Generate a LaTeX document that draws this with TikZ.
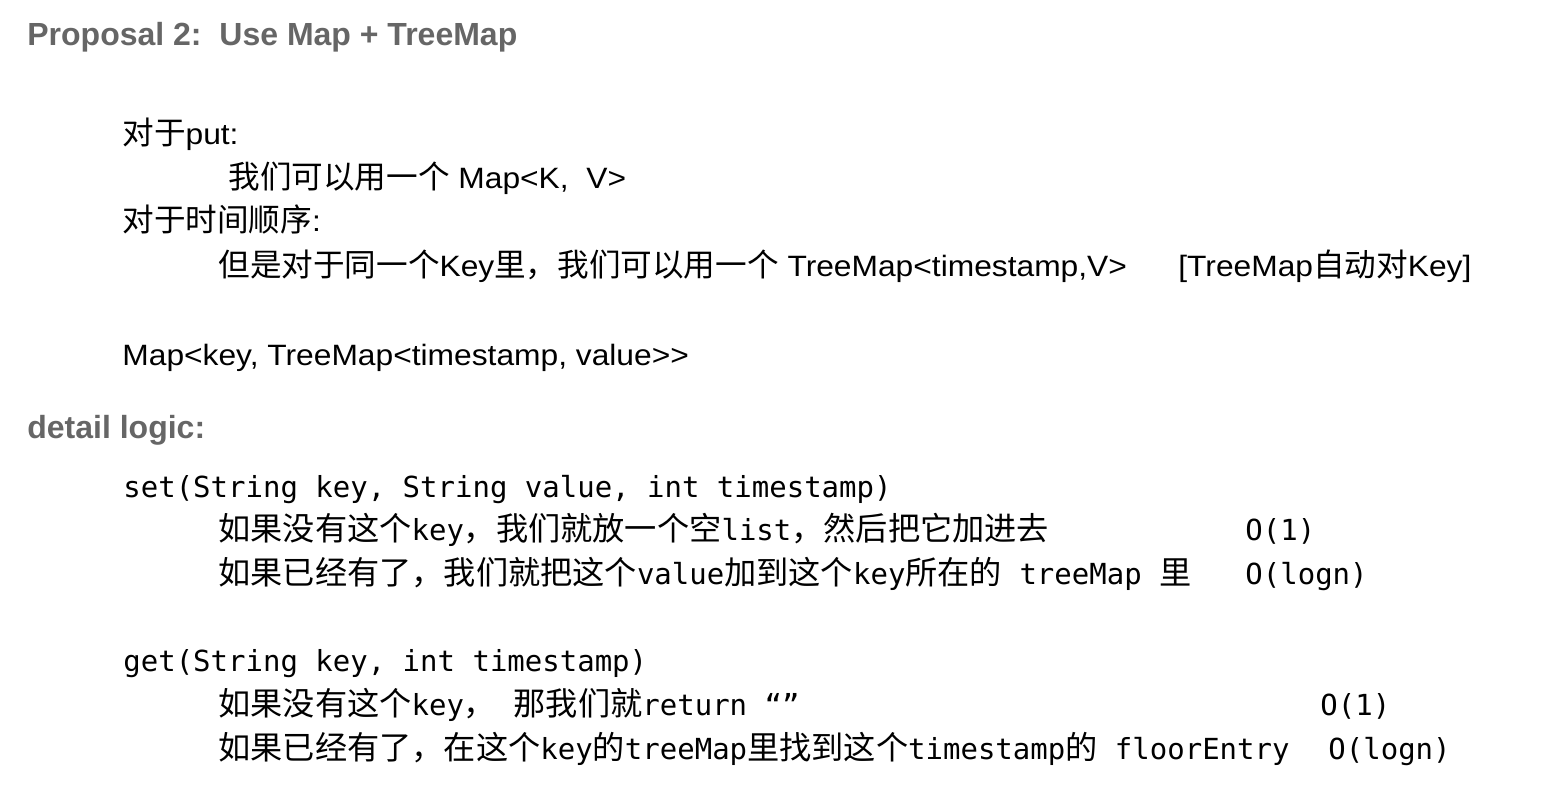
\documentclass[tikz,border=0pt]{standalone}
\usepackage{fontspec}
\setmainfont{Liberation Sans}
\newfontfamily\textsans{Liberation Sans}[FakeStretch=1.08]
\newfontfamily\codefont{DejaVu Sans Mono}
\newfontfamily\cjk{Noto Sans CJK SC}
\newcommand{\zh}[1]{{\cjk\fontsize{15.8}{18}\selectfont #1}}
\newcommand{\zhc}[1]{{\cjk\fontsize{16.1}{18}\selectfont #1}}
\definecolor{headgray}{HTML}{666666}

\begin{document}
\begin{tikzpicture}[x=0.5pt, y=-0.5pt,
    heading/.style={anchor=base west, inner sep=0pt, text=headgray, font=\fontsize{16}{19}\selectfont\bfseries},
    prose/.style={anchor=base west, inner sep=0pt, font=\textsans\fontsize{14.7}{18}\selectfont},
    code/.style={anchor=base west, inner sep=0pt, font=\codefont\fontsize{14.5}{18}\selectfont}]
    \useasboundingbox (0,0) rectangle (1562,802);
    \node [heading] (title) at (27,46) {Proposal 2:\ \ Use Map + TreeMap};
    \node [prose] (put) at (122,145) {\zh{对于}put:};
    \node [prose] (putmap) at (228,189) {\zh{我们可以用一个} Map<K,\ \ V>};
    \node [prose] (order) at (122,232) {\zh{对于时间顺序}:};
    \node [prose] (ordermap) at (218,277) {\zh{但是对于同一个}Key\zh{里，我们可以用一个} TreeMap<timestamp,V>};
    \node [prose] (note) at (1178,277) {[TreeMap\zh{自动对}Key]};
    \node [prose] (nested) at (122,365) {Map<key, TreeMap<timestamp, value>\kern0pt>};
    \node [heading] (detail) at (27,438) {detail logic:};
    \node [code] (set) at (123,497) {set(String key, String value, int timestamp)};
    \node [code] (setnew) at (218,540) {\zhc{如果没有这个}key\zhc{，我们就放一个空}list\zhc{，然后把它加进去}};
    \node [code] (setnewcost) at (1245,540) {O(1)};
    \node [code] (setold) at (218,584) {\zhc{如果已经有了，我们就把这个}value\zhc{加到这个}key\zhc{所在的} treeMap \zhc{里}};
    \node [code] (setoldcost) at (1245,584) {O(logn)};
    \node [code] (get) at (123,671) {get(String key, int timestamp)};
    \node [code] (getnew) at (218,715) {\zhc{如果没有这个}key\zhc{，}\ \zhc{那我们就}return “”};
    \node [code] (getnewcost) at (1320,715) {O(1)};
    \node [code] (getold) at (218,759) {\zhc{如果已经有了，在这个}key\zhc{的}treeMap\zhc{里找到这个}timestamp\zhc{的} floorEntry};
    \node [code] (getoldcost) at (1328,759) {O(logn)};
\end{tikzpicture}
\end{document}
